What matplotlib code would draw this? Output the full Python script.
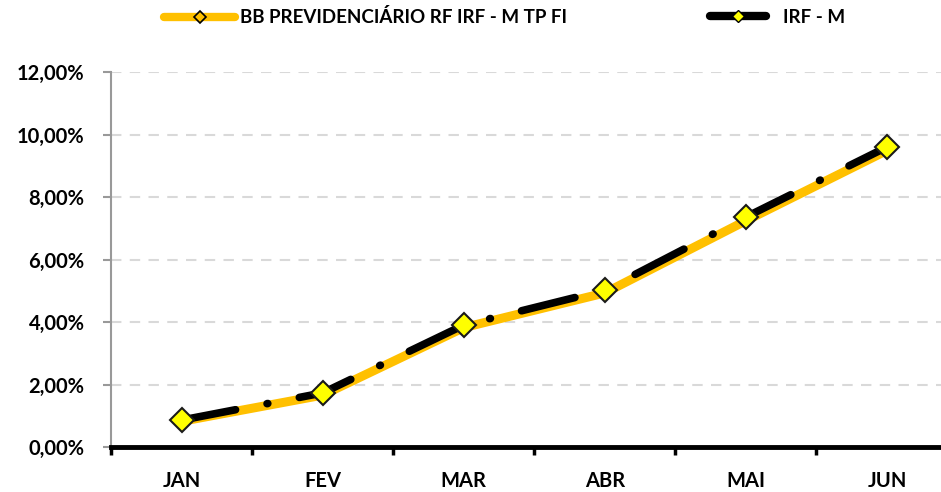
import matplotlib
matplotlib.use("Agg")
import matplotlib.pyplot as plt
from matplotlib.lines import Line2D
from matplotlib.ticker import FuncFormatter, FixedLocator, NullFormatter

plt.rcParams['font.family'] = ['Lato', 'DejaVu Sans']
plt.rcParams['font.weight'] = 'bold'

# data
months = ["JAN", "FEV", "MAR", "ABR", "MAI", "JUN"]
bb_fund = [0.82, 1.66, 3.82, 4.93, 7.24, 9.49]
irf_m = [0.86, 1.73, 3.90, 5.02, 7.36, 9.60]
label_bb = "BB PREVIDENCIÁRIO RF IRF - M TP FI"
label_irf = "IRF - M"

gold = "#FFC000"
yellow = "#FFFF00"

fig = plt.figure(figsize=(9.41, 4.92), dpi=100)
ax = fig.add_axes([111 / 941, 45 / 492, 846.5 / 941, 375 / 492])

x = list(range(len(months)))

# fund line (solid gold) under the index line
ax.plot(x, bb_fund, color=gold, lw=6.5, solid_capstyle='round', zorder=2,
        marker='D', ms=5, mfc=gold, mec='black', mew=1)

# index line: dash-dot, round caps, big yellow diamonds
line_irf, = ax.plot(x, irf_m, color='black', lw=5.5, dash_capstyle='round',
                    zorder=3, marker='D', ms=12, mfc=yellow, mec='#1a1a1a', mew=1.5)
line_irf.set_dashes((7.2, 4.2, 0.1, 4.2))

ax.set_xlim(-0.5, len(months) - 0.5)
ax.set_ylim(0, 12)
ax.set_yticks([0, 2, 4, 6, 8, 10, 12])
ax.yaxis.set_major_formatter(FuncFormatter(lambda v, p: f"{v:.2f}%".replace(".", ",")))

# category labels in the middle, tick marks on boundaries
ax.xaxis.set_major_locator(FixedLocator([i - 0.5 for i in range(len(months) + 1)]))
ax.xaxis.set_major_formatter(NullFormatter())
ax.xaxis.set_minor_locator(FixedLocator(x))
ax.set_xticklabels(months, minor=True)
ax.tick_params(axis='x', which='minor', length=0, pad=17, labelsize=14.5)
ax.tick_params(axis='x', which='major', length=6, width=2.5, color='black', direction='out')
ax.tick_params(axis='y', length=6, width=1.5, color='#999999', pad=13, labelsize=14.5)

ax.grid(axis='y', color='#d9d9d9', lw=1.5, linestyle=(0, (5, 4)))
ax.set_axisbelow(True)

for side in ['top', 'right']:
    ax.spines[side].set_visible(False)
ax.spines['left'].set_color('#999999')
ax.spines['left'].set_linewidth(1.5)
ax.spines['bottom'].set_color('black')
ax.spines['bottom'].set_linewidth(3.5)
ax.spines['bottom'].set_zorder(4)

# legend with small markers, placed like the reference
h_bb = Line2D([], [], color=gold, lw=6, solid_capstyle='round',
              marker='D', ms=6, mfc=gold, mec='black', mew=1.2)
h_irf = Line2D([], [], color='black', lw=6, solid_capstyle='round',
               marker='D', ms=6, mfc=yellow, mec='black', mew=1)
fig.legend([h_bb], [label_bb], loc='center left', bbox_to_anchor=(164 / 941, 0.965),
           frameon=False, handlelength=3.8, handletextpad=0.25, borderpad=0,
           borderaxespad=0, prop={'size': 13.5, 'weight': 'bold'})
fig.legend([h_irf], [label_irf], loc='center left', bbox_to_anchor=(710 / 941, 0.965),
           frameon=False, handlelength=3.0, handletextpad=0.9, borderpad=0,
           borderaxespad=0, prop={'size': 13.5, 'weight': 'bold'})

fig.savefig("out.png", dpi=100)
